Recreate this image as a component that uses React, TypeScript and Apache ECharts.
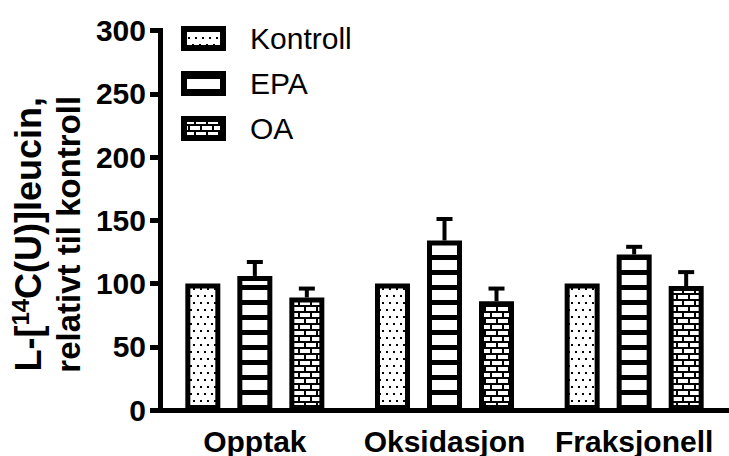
import React, { useEffect, useRef } from "react";
import * as echarts from "echarts";

const categories = ["Opptak", "Oksidasjon", "Fraksjonell"];
const seriesNames = ["Kontroll", "EPA", "OA"];
const kontrollValues = [100, 100, 100];
const epaValues = [106, 134, 123];
const epaErrors = [11, 17, 6];
const oaValues = [89, 86, 98];
const oaErrors = [7, 10, 11];
const yMin = 0;
const yMax = 300;
const yInterval = 50;

const FONT = "'Liberation Sans', Arial, Helvetica, sans-serif";
const BAR_W = 35;
const GAP_PX = 17;

function makePattern(w: number, h: number, draw: (ctx: CanvasRenderingContext2D) => void) {
  const c = document.createElement("canvas");
  c.width = w;
  c.height = h;
  const ctx = c.getContext("2d") as CanvasRenderingContext2D;
  draw(ctx);
  return { image: c, repeat: "repeat", imageWidth: w, imageHeight: h } as any;
}

function errorSeries(name: string, values: number[], errors: number[], offset: number) {
  return {
    type: "custom",
    name,
    silent: true,
    z: 5,
    data: values.map((v, i) => [i, v, errors[i]]),
    encode: { x: 0, y: 1 },
    renderItem: (_params: any, api: any) => {
      const i = api.value(0);
      const v = api.value(1);
      const e = api.value(2);
      const base = api.coord([i, v]);
      const top = api.coord([i, v + e]);
      const x = base[0] + offset;
      return {
        type: "group",
        children: [
          { type: "line", shape: { x1: x, y1: base[1], x2: x, y2: top[1] }, style: { stroke: "#000", lineWidth: 4 } },
          { type: "line", shape: { x1: x - 8, y1: top[1], x2: x + 8, y2: top[1] }, style: { stroke: "#000", lineWidth: 4 } },
        ],
      };
    },
  };
}

export default function App() {
  const ref = useRef<HTMLDivElement>(null);
  useEffect(() => {
    if (!ref.current) return;
    const chart = echarts.init(ref.current, undefined, { renderer: "svg" });

    const dots = makePattern(14, 14, (ctx) => {
      ctx.fillStyle = "#fff";
      ctx.fillRect(0, 0, 14, 14);
      ctx.fillStyle = "#000";
      ctx.fillRect(1, 1, 2, 2);
      ctx.fillRect(8, 1, 2, 2);
      ctx.fillRect(4, 8, 2, 2);
      ctx.fillRect(11, 8, 2, 2);
    });
    const stripes = makePattern(4, 15, (ctx) => {
      ctx.fillStyle = "#fff";
      ctx.fillRect(0, 0, 4, 15);
      ctx.fillStyle = "#000";
      ctx.fillRect(0, 0, 4, 5);
    });
    const bricks = makePattern(12, 12, (ctx) => {
      ctx.fillStyle = "#000";
      ctx.fillRect(0, 0, 12, 12);
      ctx.fillStyle = "#fff";
      ctx.fillRect(0, 1, 10, 4);
      ctx.fillRect(6, 7, 6, 4);
      ctx.fillRect(0, 7, 4, 4);
    });

    const barStyle = (pattern: any) => ({ color: pattern, borderColor: "#000", borderWidth: 5 });
    const offset = BAR_W + GAP_PX;
    const gapPct = ((GAP_PX / BAR_W) * 100).toFixed(1) + "%";

    chart.setOption({
      animation: false,
      grid: { left: 160, right: 0, top: 30.5, bottom: 44.5, containLabel: false },
      legend: {
        orient: "vertical",
        left: 181,
        top: 23.5,
        padding: 0,
        itemGap: 15,
        itemWidth: 39,
        itemHeight: 19,
        icon: "rect",
        data: seriesNames,
        itemStyle: { borderColor: "#000", borderWidth: 6 },
        textStyle: { fontFamily: FONT, fontSize: 30, color: "#000", lineHeight: 30, padding: [0, 0, 0, 22] },
      },
      xAxis: {
        type: "category",
        data: categories,
        axisLine: { lineStyle: { color: "#000", width: 5, cap: "square" } },
        axisTick: { alignWithLabel: true, interval: 0, length: 10, lineStyle: { color: "#000", width: 5 } },
        axisLabel: { interval: 0, hideOverlap: false, fontFamily: FONT, fontSize: 30, fontWeight: "bold", color: "#000", margin: 16 },
      },
      yAxis: {
        type: "value",
        min: yMin,
        max: yMax,
        interval: yInterval,
        splitLine: { show: false },
        axisLine: { show: true, lineStyle: { color: "#000", width: 5, cap: "square" } },
        axisTick: { show: true, length: 10, lineStyle: { color: "#000", width: 5 } },
        axisLabel: { fontFamily: FONT, fontSize: 30, fontWeight: "bold", color: "#000", margin: 14 },
        name: "{m|L-[}{s|14}{m|C(U)]leucin,}\n{n|relativt til kontroll}",
        nameLocation: "middle",
        nameRotate: 90,
        nameGap: 61,
        nameTextStyle: {
          padding: [0, 28, 0, 0],
          rich: {
            m: { fontFamily: FONT, fontSize: 36, fontWeight: "bold", color: "#000", lineHeight: 40 },
            n: { fontFamily: FONT, fontSize: 33, fontWeight: "bold", color: "#000", lineHeight: 40 },
            s: { fontFamily: FONT, fontSize: 24, fontWeight: "bold", color: "#000", lineHeight: 24, verticalAlign: "top" },
          },
        },
      },
      series: [
        { name: seriesNames[0], type: "bar", data: kontrollValues, barWidth: BAR_W, barGap: gapPct, itemStyle: barStyle(dots) },
        { name: seriesNames[1], type: "bar", data: epaValues, barWidth: BAR_W, barGap: gapPct, itemStyle: barStyle(stripes) },
        { name: seriesNames[2], type: "bar", data: oaValues, barWidth: BAR_W, barGap: gapPct, itemStyle: barStyle(bricks) },
        errorSeries("EPA-err", epaValues, epaErrors, 0),
        errorSeries("OA-err", oaValues, oaErrors, offset),
      ],
    });
    return () => chart.dispose();
  }, []);
  return <div ref={ref} style={{ width: 729, height: 456, position: "absolute", left: 0, top: 0 }} />;
}
